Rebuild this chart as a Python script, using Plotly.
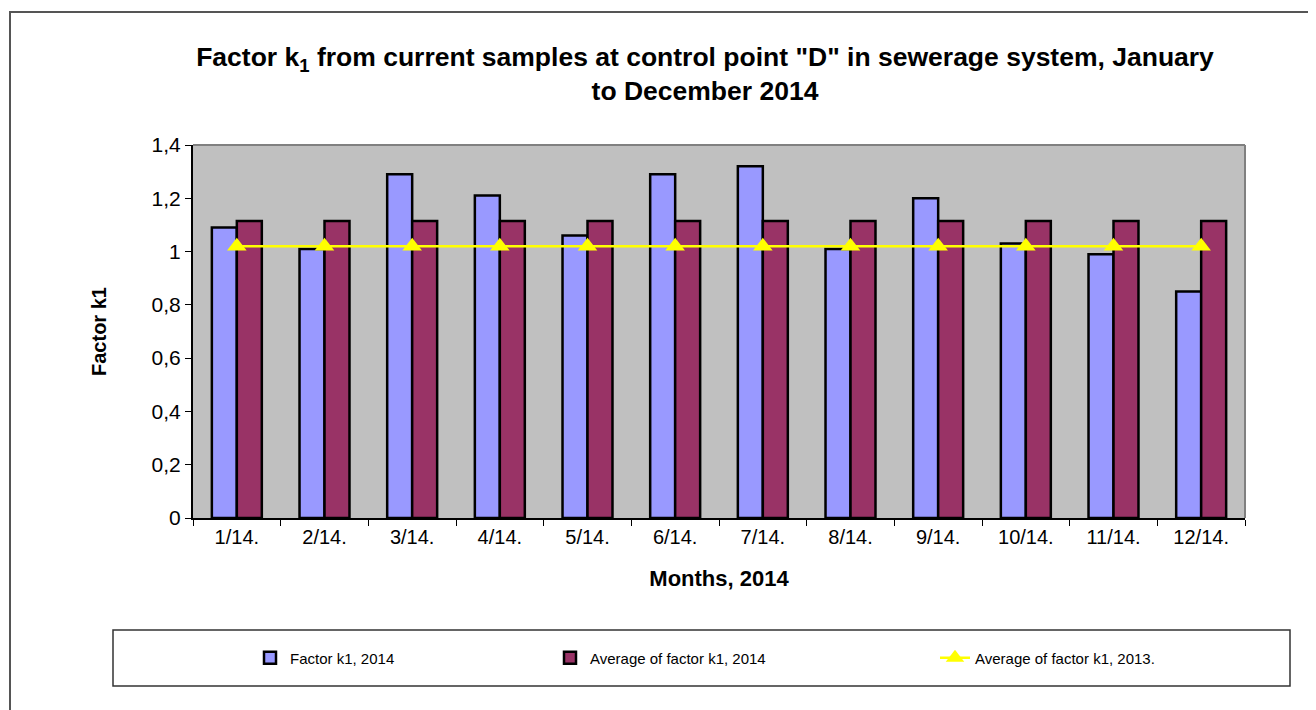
import plotly.graph_objects as go

months = ["1/14.", "2/14.", "3/14.", "4/14.", "5/14.", "6/14.", "7/14.", "8/14.", "9/14.", "10/14.", "11/14.", "12/14."]
factor_2014 = [1.09, 1.01, 1.29, 1.21, 1.06, 1.29, 1.32, 1.01, 1.20, 1.03, 0.99, 0.85]
avg_2014 = [1.115] * 12
avg_2013 = [1.02] * 12
y_ticks = [0, 0.2, 0.4, 0.6, 0.8, 1.0, 1.2, 1.4]

OFF = 8  # page body margin
W, H = 1316 - OFF, 710 - OFF
# plot area in screen pixels
L, R, T, B = 193, 1245, 145, 518
pw, ph = R - L, B - T
def px(x): return (x - L) / pw
def py(y): return (B - y) / ph

fig = go.Figure()
fig.add_trace(go.Bar(x=months, y=factor_2014, name="Factor k1, 2014", legend="legend", showlegend=True,
                     marker=dict(color="#9999FF", line=dict(color="black", width=2.5))))
fig.add_trace(go.Bar(x=months, y=avg_2014, name="Average of factor k1, 2014", legend="legend2", showlegend=True,
                     marker=dict(color="#993366", line=dict(color="black", width=2.5))))
fig.add_trace(go.Scatter(x=months, y=avg_2013, name="Average of factor k1, 2013.", legend="legend3", showlegend=True,
                         mode="lines+markers",
                         line=dict(color="#FFFF00", width=2.5),
                         marker=dict(symbol="triangle-up", size=17, color="#FFFF00")))

shapes = [
    dict(type="rect", xref="paper", yref="paper", x0=px(10), x1=px(1310), y0=py(730), y1=py(12),
         line=dict(color="#555555", width=2), layer="below"),
    dict(type="rect", xref="paper", yref="paper", x0=px(113), x1=px(1290), y0=py(686), y1=py(630),
         line=dict(color="#333333", width=1.5), layer="below"),
    dict(type="line", xref="paper", yref="paper", x0=0, x1=1, y0=1, y1=1, line=dict(color="#808080", width=2)),
    dict(type="line", xref="paper", yref="paper", x0=1, x1=1, y0=0, y1=1, line=dict(color="#808080", width=2)),
]

legfont = dict(size=15, family="Liberation Sans, Arial, sans-serif")
def leg(xtext):
    return dict(orientation="h", x=px(xtext - 40), xanchor="left", y=py(658), yanchor="middle",
                bgcolor="rgba(0,0,0,0)", font=legfont)

fig.update_layout(
    width=W, height=H,
    showlegend=True,
    margin=dict(l=L - OFF, r=W - (R - OFF), t=T - OFF, b=H - (B - OFF), autoexpand=False),
    paper_bgcolor="white", plot_bgcolor="#C0C0C0",
    separators=",.",
    barmode="group", bargap=0.43, bargroupgap=0,
    font=dict(family="Liberation Sans, Arial, sans-serif", color="black"),
    title=dict(text="<b>Factor k<sub>1</sub> from current samples at control point \"D\" in sewerage system, January<br>to December 2014</b>",
               x=(705 - OFF) / W, xanchor="center", y=1 - (66 - OFF) / H, yanchor="middle",
               font=dict(size=26.5)),
    xaxis=dict(range=[-0.5, 11.5], showgrid=False, showline=True, linecolor="black", linewidth=2,
               ticks="outside", tickson="boundaries", ticklen=6, tickcolor="black",
               tickfont=dict(size=20),
               title=dict(text="<b>Months, 2014</b>", font=dict(size=22), standoff=24)),
    yaxis=dict(range=[0, 1.4], tickvals=y_ticks, showgrid=False, zeroline=False,
               showline=True, linecolor="black", linewidth=2,
               ticks="outside", ticklen=6, tickcolor="black", tickfont=dict(size=21),
               title=dict(text="<b>Factor k1</b>", font=dict(size=20), standoff=40)),
    legend=leg(290),
    legend2=leg(590),
    legend3=leg(975),
    shapes=shapes,
)

fig.write_html("out.html")
